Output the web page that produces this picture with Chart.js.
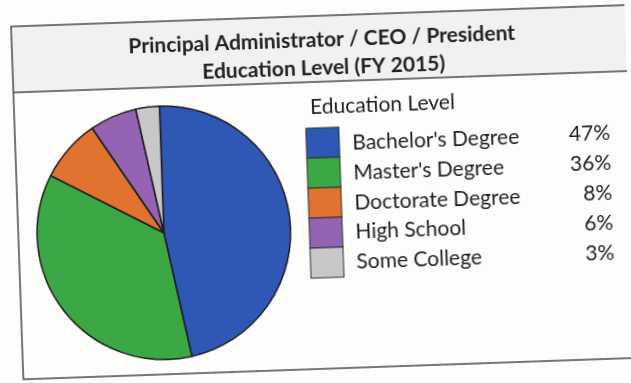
<!DOCTYPE html>
<html>
<head>
<meta charset="utf-8">
<script src="https://cdn.jsdelivr.net/npm/chart.js@4.4.0/dist/chart.umd.min.js"></script>
<style>
  html, body { margin: 0; padding: 0; background: #fdfdfc; overflow: hidden; }
  #wrap { width: 631px; height: 383px; transform: rotate(-2deg); transform-origin: 50% 50%; }
</style>
</head>
<body>
<div id="wrap"><canvas id="chart" width="631" height="383"></canvas></div>
<script>
const titleLines = ['Principal Administrator / CEO / President', 'Education Level (FY 2015)'];
const legendTitle = 'Education Level';
const categories = ["Bachelor's Degree", "Master's Degree", 'Doctorate Degree', 'High School', 'Some College'];
const shares = [47, 36, 8, 6, 3];
const sliceColors = ['#2f57b5', '#3ca845', '#df732f', '#9563b3', '#c8c8cb'];

const FONT = 'Lato, "Open Sans", sans-serif';

// frame around the whole chart, with a band for the title
const framePlugin = {
  id: 'frame',
  beforeDraw(chart) {
    const ctx = chart.ctx;
    ctx.save();
    ctx.fillStyle = '#f1f1ef';
    ctx.fillRect(17, 16, 620, 66);
    ctx.strokeStyle = '#4a4a4a';
    ctx.lineWidth = 1.5;
    ctx.strokeRect(17, 16, 620, 353);
    ctx.beginPath();
    ctx.moveTo(17, 82);
    ctx.lineTo(637, 82);
    ctx.stroke();
    ctx.restore();
  },
  afterDraw(chart) {
    const ctx = chart.ctx;
    ctx.save();
    ctx.fillStyle = '#222';
    ctx.textAlign = 'center';
    ctx.textBaseline = 'middle';
    ctx.font = 'bold 21px ' + FONT;
    ctx.fillText(titleLines[0], 327, 40);
    ctx.fillText(titleLines[1], 328, 68);
    ctx.restore();
  }
};

// legend with a value column on the right
const sideLegend = {
  id: 'sideLegend',
  afterDraw(chart) {
    const ctx = chart.ctx;
    const ds = chart.data.datasets[0];
    const left = 308, top = 128, boxW = 33, rowH = 30;
    ctx.save();
    ctx.fillStyle = '#1e1e1e';
    ctx.textBaseline = 'middle';
    ctx.font = '21px ' + FONT;
    ctx.textAlign = 'left';
    ctx.fillText(legendTitle, 313, 107);
    chart.data.labels.forEach((label, i) => {
      const y = top + i * rowH;
      ctx.fillStyle = ds.backgroundColor[i];
      ctx.fillRect(left, y, boxW, rowH);
      ctx.strokeStyle = '#333';
      ctx.lineWidth = 1;
      ctx.strokeRect(left, y, boxW, rowH);
      ctx.fillStyle = '#1e1e1e';
      ctx.textAlign = 'left';
      ctx.fillText(label, 354, y + 16.5 - i * 0.3);
      ctx.textAlign = 'right';
      ctx.fillText(ds.data[i] + '%', 612, y + 15);
    });
    ctx.restore();
  }
};

new Chart(document.getElementById('chart'), {
  type: 'pie',
  data: {
    labels: categories,
    datasets: [{
      data: shares,
      backgroundColor: sliceColors,
      borderColor: '#1c1c1c',
      borderWidth: 1.5
    }]
  },
  options: {
    responsive: false,
    animation: false,
    rotation: 0,
    layout: { padding: { left: 35, right: 341, top: 100, bottom: 28 } },
    plugins: {
      legend: { display: false },
      title: { display: false },
      tooltip: { enabled: false }
    }
  },
  plugins: [framePlugin, sideLegend]
});
</script>
</body>
</html>
